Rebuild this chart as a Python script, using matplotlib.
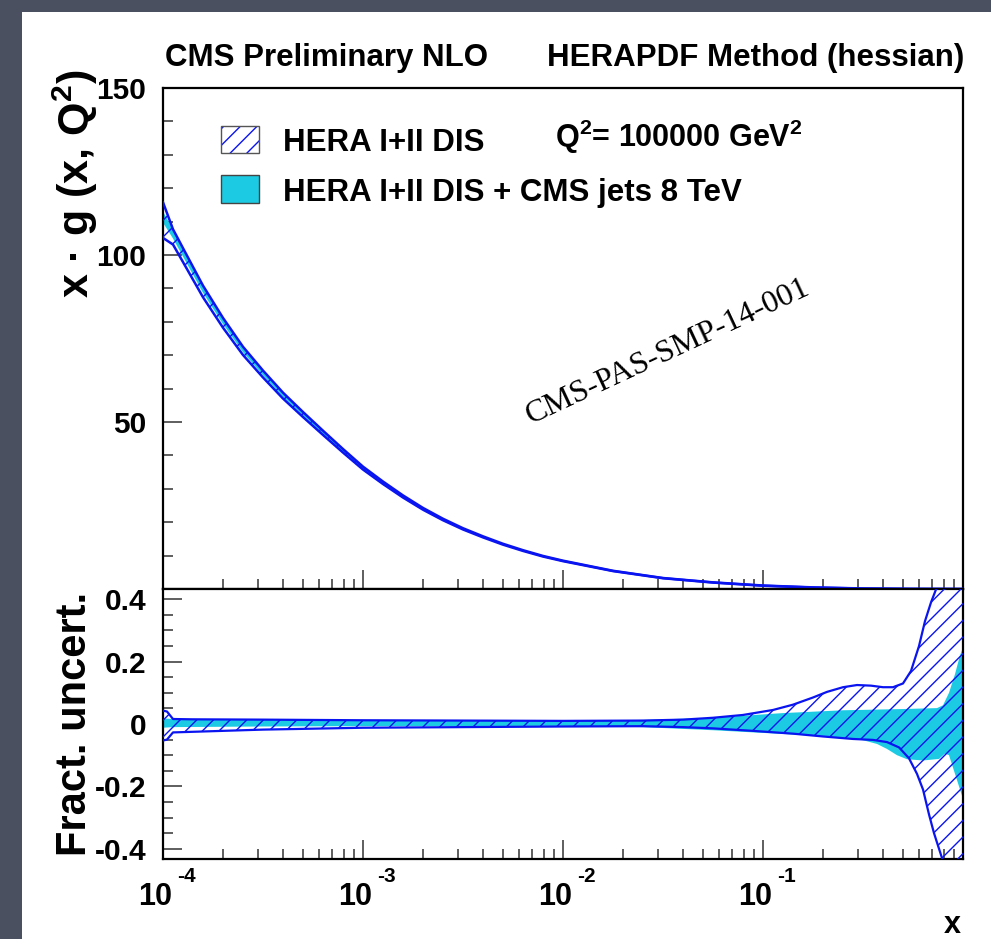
import numpy as np
import matplotlib
matplotlib.use("Agg")
import matplotlib.pyplot as plt
from matplotlib.patches import Rectangle

plt.rcParams['font.family'] = ['Liberation Sans', 'DejaVu Sans']
plt.rcParams['font.weight'] = 'bold'
plt.rcParams['mathtext.fontset'] = 'custom'
plt.rcParams['mathtext.rm'] = 'Liberation Sans:bold'
plt.rcParams['mathtext.bf'] = 'Liberation Sans:bold'
plt.rcParams['mathtext.it'] = 'Liberation Sans:bold'
plt.rcParams['hatch.linewidth'] = 1.0

# x * g(x, Q^2) central value, Q^2 = 100000 GeV^2  (x given as log10)
logx_c = [-4.0, -3.95, -3.9, -3.8, -3.7, -3.6, -3.5, -3.4, -3.3,
          -3.2, -3.1, -3.0, -2.9, -2.8, -2.7, -2.6, -2.5, -2.4, -2.3,
          -2.2, -2.1, -2.0, -1.75, -1.5, -1.25, -1.0, -0.75, -0.5, -0.25, 0.0]
xg_c = [111, 106, 100.5, 89.5, 80, 71.5, 64.5, 58, 52.3,
        46.8, 41.4, 36.2, 31.8, 27.7, 24.0, 20.8, 18.0, 15.6, 13.4,
        11.5, 9.8, 8.4, 5.4, 3.25, 1.95, 1.0, 0.45, 0.14, 0.03, 0.0]

# fractional uncertainty, HERA I+II DIS (hatched)
logx_hera_up = [-4.0, -3.98, -3.95, -3.85, -3.5, -3.0, -2.0, -1.6, -1.4, -1.25,
                -1.1, -0.95, -0.85, -0.75, -0.68, -0.6, -0.53, -0.46, -0.4, -0.35,
                -0.3, -0.26, -0.22, -0.19, -0.16, -0.13, -0.1, 0.0]
hera_up = [0.043, 0.040, 0.016, 0.015, 0.014, 0.012, 0.010, 0.011, 0.014, 0.020,
           0.029, 0.045, 0.062, 0.085, 0.103, 0.118, 0.125, 0.123, 0.118, 0.118,
           0.13, 0.17, 0.25, 0.33, 0.39, 0.44, 0.5, 0.7]
logx_hera_lo = [-4.0, -3.98, -3.95, -3.8, -3.5, -3.0, -2.0, -1.6, -1.4, -1.25,
                -1.05, -0.85, -0.7, -0.55, -0.45, -0.38, -0.32, -0.27, -0.23, -0.2,
                -0.17, -0.145, -0.12, -0.09, 0.0]
hera_lo = [-0.053, -0.05, -0.027, -0.024, -0.018, -0.012, -0.008, -0.007, -0.010, -0.014,
           -0.022, -0.031, -0.040, -0.048, -0.051, -0.058, -0.075, -0.11, -0.16, -0.21,
           -0.29, -0.35, -0.40, -0.46, -0.6]

# fractional uncertainty, HERA I+II DIS + CMS jets 8 TeV (cyan)
logx_cms_up = [-4.0, -3.95, -3.5, -3.0, -2.0, -1.6, -1.25, -0.9, -0.6, -0.3,
               -0.13, -0.1, -0.07, -0.04, -0.015, 0.0]
cms_up = [0.018, 0.016, 0.014, 0.011, 0.010, 0.013, 0.020, 0.035, 0.044, 0.048,
          0.051, 0.06, 0.10, 0.16, 0.22, 0.245]
logx_cms_lo = [-4.0, -3.95, -3.5, -3.0, -2.0, -1.6, -1.25, -0.9, -0.6, -0.5,
               -0.43, -0.38, -0.33, -0.28, -0.2, -0.12, -0.09, -0.07, -0.05, -0.02, 0.0]
cms_lo = [-0.012, -0.010, -0.008, -0.007, -0.006, -0.010, -0.020, -0.032, -0.043, -0.052,
          -0.064, -0.08, -0.10, -0.113, -0.117, -0.112, -0.095, -0.10, -0.14, -0.20, -0.24]

decades = [-4, -3, -2, -1]

W, H = 991, 939
BLUE = '#0a14f0'
CYAN = '#1ccbe3'


def fx(px):
    return px / W


def fy(py):
    return 1 - py / H


def band(lxu, yu, lxl, yl):
    # closed polygon: upper edge then lower edge reversed
    xs = np.concatenate([10.0 ** np.array(lxu), 10.0 ** np.array(lxl)[::-1]])
    ys = np.concatenate([yu, np.array(yl)[::-1]])
    return xs, ys


fig = plt.figure(figsize=(W / 100, H / 100), dpi=100)
fig.patch.set_facecolor('#4b5061')
fig.patches.append(Rectangle((fx(22), 0), 1, fy(12), transform=fig.transFigure,
                             facecolor='white', edgecolor='none', zorder=-10))

ax1 = fig.add_axes([fx(163), fy(589), fx(963) - fx(163), fy(88) - fy(589)])
ax2 = fig.add_axes([fx(163), fy(859), fx(963) - fx(163), fy(589) - fy(859)], sharex=ax1)

# bottom panel: fractional uncertainties
xs, ys = band(logx_cms_up, cms_up, logx_cms_lo, cms_lo)
ax2.fill(xs, ys, facecolor=CYAN, edgecolor='none', zorder=2)
xs, ys = band(logx_hera_up, hera_up, logx_hera_lo, hera_lo)
ax2.fill(xs, ys, facecolor='none', edgecolor=BLUE, hatch='//', linewidth=0, zorder=3)
ax2.plot(10.0 ** np.array(logx_hera_up), hera_up, color=BLUE, lw=1.6, zorder=4)
ax2.plot(10.0 ** np.array(logx_hera_lo), hera_lo, color=BLUE, lw=1.6, zorder=4)

# top panel: x g with bands derived from the fractional uncertainties
lx = np.array(logx_c)
xc = 10.0 ** lx
yc = np.array(xg_c)
h_up = yc * (1 + np.interp(lx, logx_hera_up, hera_up))
h_lo = yc * (1 + np.interp(lx, logx_hera_lo, hera_lo))
c_up = yc * (1 + np.interp(lx, logx_cms_up, cms_up))
c_lo = yc * (1 + np.interp(lx, logx_cms_lo, cms_lo))
ax1.fill_between(xc, c_lo, c_up, facecolor=CYAN, edgecolor='none', zorder=2)
ax1.fill_between(xc, h_lo, h_up, facecolor='none', edgecolor=BLUE, hatch='//', linewidth=0, zorder=3)
ax1.plot(xc, h_up, color=BLUE, lw=1.8, zorder=4)
ax1.plot(xc, h_lo, color=BLUE, lw=1.8, zorder=4)

for ax in (ax1, ax2):
    ax.set_xscale('log')
    ax.set_xlim(1e-4, 1.0)
    for s in ax.spines.values():
        s.set_linewidth(1.6)
    ax.tick_params(which='both', direction='in', top=False, right=False, color='#333333', width=1.1)
    ax.tick_params(which='major', length=13.7)
    ax.tick_params(which='minor', length=7.2)
    ax.tick_params(axis='y', labelsize=21.5, pad=12)
    ax.tick_params(axis='x', labelbottom=False)
    ax.xaxis.set_minor_locator(matplotlib.ticker.LogLocator(base=10, subs=np.arange(2, 10), numticks=20))

ax1.set_ylim(0, 150)
ax1.set_yticks([50, 100, 150])
ax1.set_yticks(np.arange(0, 151, 10), minor=True)
ax2.set_ylim(-0.433, 0.433)
ax2.set_yticks([-0.4, -0.2, 0, 0.2, 0.4])
ax2.set_yticklabels(['-0.4', '-0.2', '0', '0.2', '0.4'])
ax2.set_yticks(np.arange(-0.4, 0.41, 0.05), minor=True)

# x tick labels in ROOT style: 10 with raised exponent
for e in decades:
    ax2.annotate('10', xy=(10.0 ** e, 0), xycoords=('data', 'axes fraction'),
                 xytext=(6.5, -33), textcoords='offset points', ha='right', va='baseline',
                 fontsize=22, fontweight='bold')
    ax2.annotate(str(e), xy=(10.0 ** e, 0), xycoords=('data', 'axes fraction'),
                 xytext=(10.5, -16.5), textcoords='offset points', ha='left', va='baseline',
                 fontsize=15, fontweight='bold')

fig.text(fx(952), fy(933), 'x', fontsize=22, fontweight='bold', ha='center', va='baseline')
fig.text(fx(75), fy(184), r'x · g (x, $\mathbf{Q^{2}}$)', fontsize=31, fontweight='bold',
         rotation=90, ha='center', va='center')
fig.text(fx(75), fy(724), 'Fract. uncert.', fontsize=30, fontweight='bold',
         rotation=90, ha='center', va='center')

fig.text(fx(165), fy(66), 'CMS Preliminary NLO', fontsize=22.5, fontweight='bold', va='baseline')
fig.text(fx(547), fy(66), 'HERAPDF Method (hessian)', fontsize=22.5, fontweight='bold', va='baseline')

# legend
fig.patches.append(Rectangle((fx(221), fy(153)), fx(259) - fx(221), fy(126) - fy(153),
                             transform=fig.transFigure, facecolor='white', edgecolor=BLUE,
                             hatch='//', linewidth=0, zorder=5))
fig.patches.append(Rectangle((fx(221), fy(153)), fx(259) - fx(221), fy(126) - fy(153),
                             transform=fig.transFigure, facecolor='none', edgecolor='#555555',
                             linewidth=1.0, zorder=6))
fig.patches.append(Rectangle((fx(221), fy(203)), fx(259) - fx(221), fy(175) - fy(203),
                             transform=fig.transFigure, facecolor=CYAN, edgecolor='#444444',
                             linewidth=1.0, zorder=5))
fig.text(fx(283), fy(151), 'HERA I+II DIS', fontsize=22.5, fontweight='bold', va='baseline')
fig.text(fx(283), fy(201), 'HERA I+II DIS + CMS jets 8 TeV', fontsize=22.5, fontweight='bold',
         va='baseline')
fig.text(fx(555), fy(147), r'Q$^{\mathbf{2}}$= 100000 GeV$^{\mathbf{2}}$', fontsize=22,
         fontweight='bold', va='baseline')

fig.text(fx(668), fy(352), 'CMS-PAS-SMP-14-001', family=['Liberation Serif', 'DejaVu Serif'],
         fontweight='normal', fontsize=23, rotation=25, rotation_mode='anchor',
         ha='center', va='center')

fig.savefig('out.png', dpi=100, facecolor=fig.get_facecolor())
